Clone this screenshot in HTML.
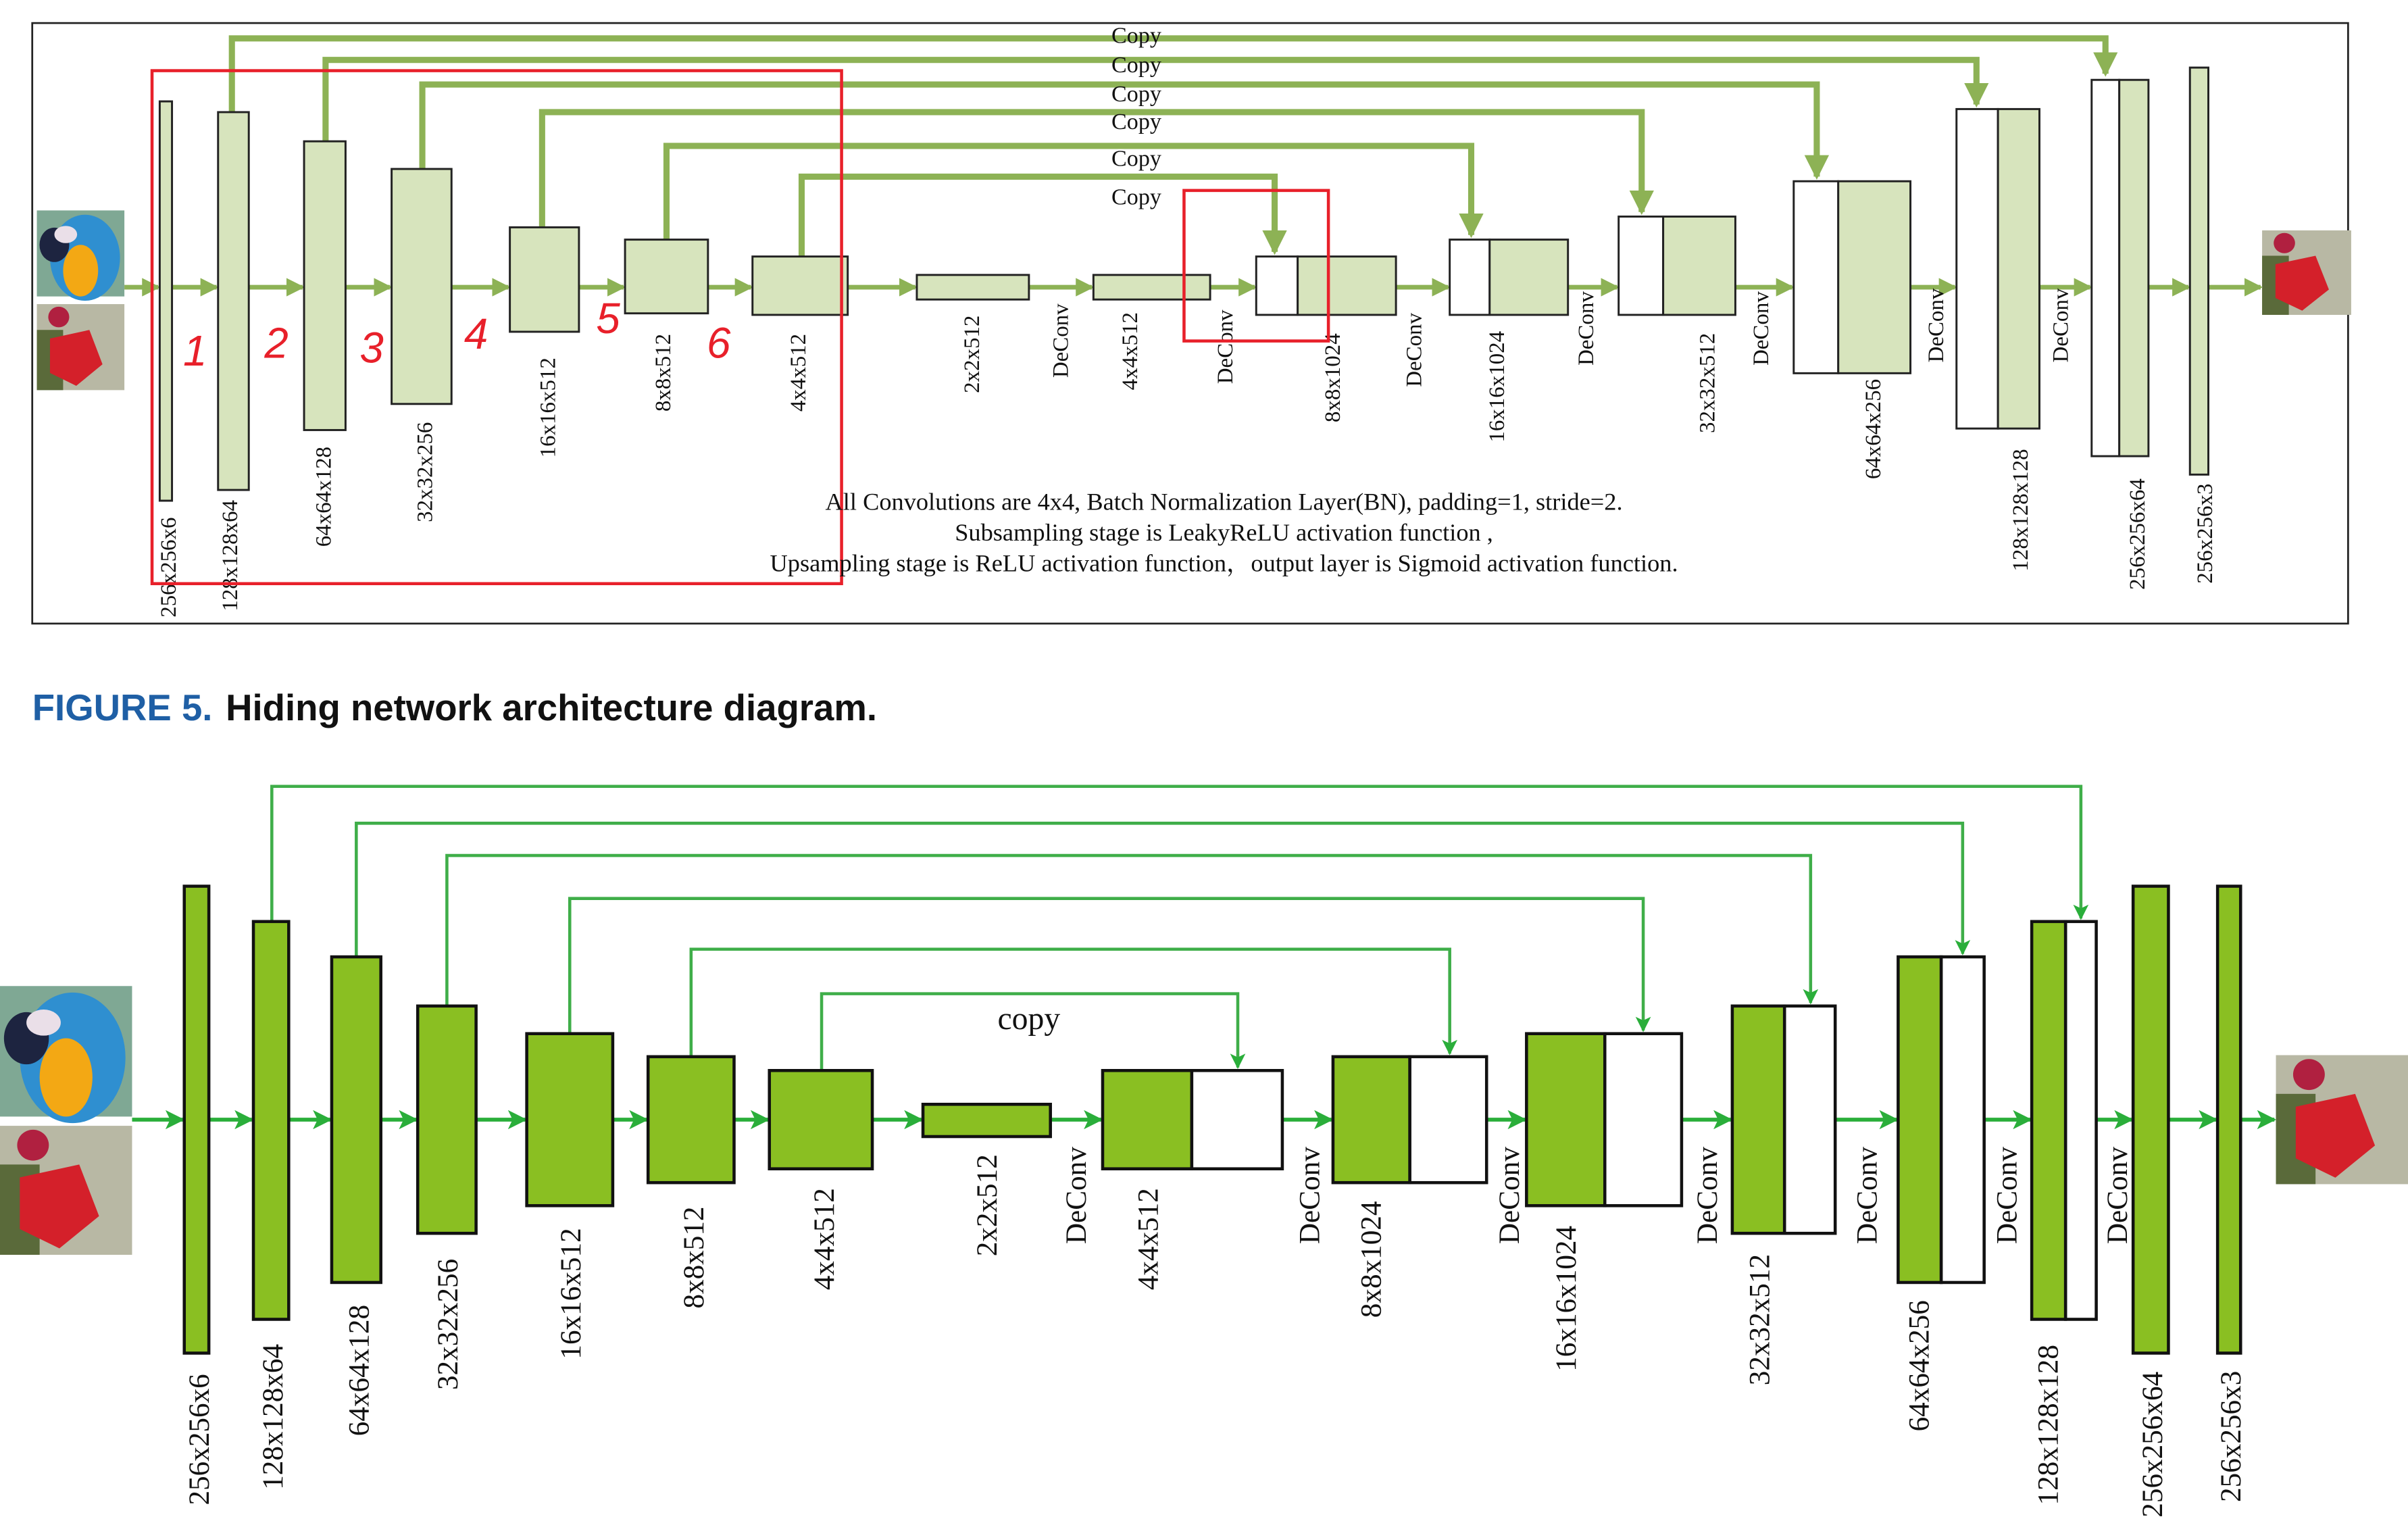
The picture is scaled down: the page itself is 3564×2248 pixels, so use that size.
<!DOCTYPE html>
<html><head><meta charset="utf-8">
<style>
html,body{margin:0;padding:0;background:#fff;}
svg{display:block;}
text{font-family:"Liberation Serif",serif;}
</style></head>
<body>
<svg id="fig" width="3564" height="2248" viewBox="0 0 1568 989" xmlns="http://www.w3.org/2000/svg">
<defs>
<marker id="ah1" markerWidth="4" markerHeight="4" refX="3.5" refY="2" orient="auto" markerUnits="strokeWidth"><path d="M0,0 L4,2 L0,4 Z" fill="#8db255"/></marker>
<marker id="ah2" markerWidth="5" markerHeight="5" refX="4.5" refY="2.5" orient="auto" markerUnits="strokeWidth"><path d="M0,0 L5,2.5 L0,5 L1.2,2.5 Z" fill="#2aae3a"/></marker>
</defs>
<rect x="21" y="15" width="1508" height="391" fill="none" stroke="#222" stroke-width="1.2"/>
<g id="top"></g>
<g id="bot"></g>
<text x="21" y="469" style="font-family:'Liberation Sans',sans-serif" font-size="24" font-weight="bold" fill="#1f5fa5">FIGURE 5.</text>
<text x="147" y="469" style="font-family:'Liberation Sans',sans-serif" font-size="24" font-weight="bold" fill="#111">Hiding network architecture diagram.</text>
</svg>
<script>
// top diagram data
const topX=[104,142,198,255,332,407,490,597,712,818,944,1054,1168,1274,1362,1426];
const topW=[8,20,27,39,45,54,62,73,76,91,77,76,76,54,37,12];
const topY=[66,73,92,110,148,156,167,179,179,167,156,141,118,71,52,44];
const topH=[260,246,188,153,68,48,38,16,16,38,49,64,125,208,245,265];
const topWhite=[0,0,0,0,0,0,0,0,0,27,26,29,29,27,18,0];
const topLabels=["256x256x6","128x128x64","64x64x128","32x32x256","16x16x512","8x8x512","4x4x512","2x2x512","4x4x512","8x8x1024","16x16x1024","32x32x512","64x64x256","128x128x128","256x256x64","256x256x3"];
const topLabelX=[110,150,211,277,357,432,520,633,736,868,975,1112,1220,1316,1392,1436];
const topLabelB=[402,398,356,340,298,268,268,256,254,275,288,282,312,372,384,380];
const topDeX=[691,798,921,1033,1147,1261,1342];
const topDeB=[246,250,252,238,238,236,236];
const topCopyFrom=[151,212,275,353,434,522];
const topCopyTo=[1371,1287,1183,1069,958,830];
const topCopyY=[25,39,55,73,95,115];
const topCopyEnd=[48,68,115,138,153,164];
const topCopyLabelY=[28,47,66,84,108,133];
// bottom diagram data
const botX=[120,165,216,272,343,422,501,601,718,868,994,1128,1236,1323,1389,1444];
const botW=[16,23,32,38,56,56,67,83,117,100,101,67,56,42,23,15];
const botY=[577,600,623,655,673,688,697,719,697,688,673,655,623,600,577,577];
const botH=[304,259,212,148,112,82,64,21,64,82,112,148,212,259,304,304];
const botGreen=[16,23,32,38,56,56,67,83,58,50,51,34,28,22,23,15];
const botLabels=topLabels;
const botLabelX=[130,178,234,292,372,452,537,643,748,893,1020,1146,1250,1334,1402,1453];
const botLabelB=[980,970,935,905,885,852,840,818,840,858,893,902,932,980,988,978];
const botDeX=[701,853,983,1112,1216,1307,1379];
const botCopyFrom=[177,232,291,371,450,535];
const botCopyTo=[1355,1278,1179,1070,944,806];
const botCopyY=[512,536,557,585,618,647];
const botCopyEnd=[598,621,653,671,686,695];

const NS="http://www.w3.org/2000/svg";
function mk(p,tag,a){const e=document.createElementNS(NS,tag);for(const k in a)e.setAttribute(k,a[k]);p.appendChild(e);return e;}
function vtext(p,x,b,s,fs,name){const t=mk(p,'text',{x:0,y:0,'font-size':fs,fill:'#111',transform:`translate(${x},${b}) rotate(-90)`,'dominant-baseline':'central'});t.textContent=s;

return t;}

const T=document.getElementById('top'), B=document.getElementById('bot');
function img(p,x,y,w,h,kind,name){const g=mk(p,'g',{});


if(kind==='parrot'){mk(g,'rect',{x,y,width:w,height:h,fill:'#7fa894'});mk(g,'ellipse',{cx:x+w*0.55,cy:y+h*0.55,rx:w*0.4,ry:h*0.5,fill:'#2f8fd0'});mk(g,'ellipse',{cx:x+w*0.5,cy:y+h*0.7,rx:w*0.2,ry:h*0.3,fill:'#f3a814'});mk(g,'ellipse',{cx:x+w*0.2,cy:y+h*0.4,rx:w*0.17,ry:h*0.2,fill:'#1d2440'});mk(g,'ellipse',{cx:x+w*0.33,cy:y+h*0.28,rx:w*0.13,ry:h*0.1,fill:'#eadfe8'});}
else{mk(g,'rect',{x,y,width:w,height:h,fill:'#b8b8a4'});mk(g,'rect',{x,y:y+h*0.3,width:w*0.3,height:h*0.7,fill:'#5a6a3a'});mk(g,'path',{d:`M${x+w*0.15},${y+h*0.4} L${x+w*0.6},${y+h*0.3} L${x+w*0.75},${y+h*0.7} L${x+w*0.45},${y+h*0.95} L${x+w*0.15},${y+h*0.8}Z`,fill:'#d4202a'});mk(g,'ellipse',{cx:x+w*0.25,cy:y+h*0.15,rx:w*0.12,ry:h*0.12,fill:'#b02040'});}}
img(T,24,137,57,56,'parrot','top-input-cover');
img(T,24,198,57,56,'secret','top-input-secret');
img(T,1473,150,58,55,'secret','top-output-image');
img(B,0,642,86,85,'parrot','bottom-input-cover');
img(B,0,733,86,84,'secret','bottom-input-secret');
img(B,1482,687,86,84,'secret','bottom-output-image');

for(let i=0;i<topCopyFrom.length;i++){
 const l=mk(T,'polyline',{points:`${topCopyFrom[i]},${topY[i+1]} ${topCopyFrom[i]},${topCopyY[i]} ${topCopyTo[i]},${topCopyY[i]} ${topCopyTo[i]},${topCopyEnd[i]}`,fill:'none',stroke:'#8db255','stroke-width':4,'marker-end':'url(#ah1)'});
 
 
 const t=mk(T,'text',{x:740,y:topCopyLabelY[i],'font-size':15,'text-anchor':'middle',fill:'#111'});t.textContent='Copy';
 
 
}
const topArrowStarts=[81].concat(topX.map((x,i)=>x+topW[i]));
const topArrowEnds=topX.concat([1473]);
for(let i=0;i<topArrowEnds.length;i++){
 const a=mk(T,'line',{x1:topArrowStarts[i],y1:187,x2:topArrowEnds[i]-1,y2:187,stroke:'#8db255','stroke-width':3,'marker-end':'url(#ah1)'});
 
 
}
for(let i=0;i<topX.length;i++){
 const g=mk(T,'g',{});
 
 
 if(topWhite[i]>0) mk(g,'rect',{x:topX[i],y:topY[i],width:topWhite[i],height:topH[i],fill:'#fff',stroke:'#222','stroke-width':1.3});
 mk(g,'rect',{x:topX[i]+topWhite[i],y:topY[i],width:topW[i]-topWhite[i],height:topH[i],fill:'#d7e4bd',stroke:'#222','stroke-width':1.3});
 vtext(T,topLabelX[i],topLabelB[i],topLabels[i],14.5,'top-layer-label');
}
for(let i=0;i<topDeX.length;i++) vtext(T,topDeX[i],topDeB[i],'DeConv',14.5,'top-deconv-label');
const r1=mk(T,'rect',{x:99,y:46,width:449,height:334,fill:'none',stroke:'#e8202a','stroke-width':2});

const r2=mk(T,'rect',{x:771,y:124,width:94,height:98,fill:'none',stroke:'#e8202a','stroke-width':2});

const numX=[127,180,242,310,396,468];
const numY=[238,233,236,227,217,233];
for(let i=0;i<6;i++){const t=mk(T,'text',{x:numX[i],y:numY[i],'font-size':28,fill:'#e8202a','text-anchor':'middle',style:"font-family:'Liberation Sans',sans-serif;font-style:italic"});t.textContent=String(i+1);
 }
const notes=["All Convolutions are 4x4, Batch Normalization Layer(BN), padding=1, stride=2.","Subsampling stage is LeakyReLU activation function ,","Upsampling stage is ReLU activation function，output layer is Sigmoid activation function."];
const noteY=[332,352,372];
for(let i=0;i<3;i++){const t=mk(T,'text',{x:797,y:noteY[i],'font-size':16,'text-anchor':'middle',fill:'#111',style:"font-family:'Liberation Serif','Noto Serif CJK SC',serif"});t.textContent=notes[i];
 }

for(let i=0;i<botCopyFrom.length;i++){
 const l=mk(B,'polyline',{points:`${botCopyFrom[i]},${botY[i+1]} ${botCopyFrom[i]},${botCopyY[i]} ${botCopyTo[i]},${botCopyY[i]} ${botCopyTo[i]},${botCopyEnd[i]}`,fill:'none',stroke:'#3fae49','stroke-width':2,'marker-end':'url(#ah2)'});
 
 
}
const cp=mk(B,'text',{x:670,y:670,'font-size':21,'text-anchor':'middle',fill:'#111'});cp.textContent='copy';

const botArrowStarts=[86].concat(botX.map((x,i)=>x+botW[i]));
const botArrowEnds=botX.concat([1482]);
for(let i=0;i<botArrowEnds.length;i++){
 const a=mk(B,'line',{x1:botArrowStarts[i],y1:729,x2:botArrowEnds[i]-1,y2:729,stroke:'#2aae3a','stroke-width':2.5,'marker-end':'url(#ah2)'});
 
 
}
for(let i=0;i<botX.length;i++){
 const g=mk(B,'g',{});
 
 
 if(botGreen[i]<botW[i]) mk(g,'rect',{x:botX[i]+botGreen[i],y:botY[i],width:botW[i]-botGreen[i],height:botH[i],fill:'#fff',stroke:'#111','stroke-width':2});
 mk(g,'rect',{x:botX[i],y:botY[i],width:botGreen[i],height:botH[i],fill:'#8abf22',stroke:'#111','stroke-width':2});
 vtext(B,botLabelX[i],botLabelB[i],botLabels[i],19,'bottom-layer-label');
}
for(let i=0;i<botDeX.length;i++) vtext(B,botDeX[i],810,'DeConv',19,'bottom-deconv-label');
</script>
</body></html>
